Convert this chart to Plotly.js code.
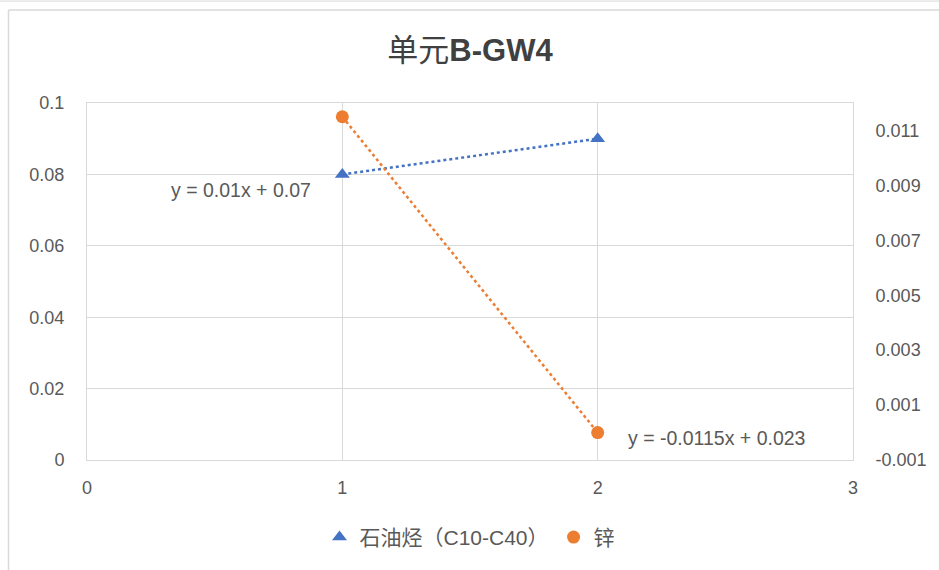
<!DOCTYPE html>
<html>
<head>
<meta charset="utf-8">
<script src="https://cdn.plot.ly/plotly-3.0.1.min.js"></script>
<style>html,body{margin:0;padding:0;background:#fff;}#chart{width:939px;height:570px;}</style>
</head>
<body>
<div id="chart"></div>
<script>
// ---- data ----
const xValues = [1, 2];
const tphName = '石油烃（C10-C40）';
const tphValues = [0.08, 0.09];
const znName = '锌';
const znValues = [0.0115, 0];
const leftTickVals = [0, 0.02, 0.04, 0.06, 0.08, 0.1];
const leftTickText = ['0', '0.02', '0.04', '0.06', '0.08', '0.1'];
const rightTickVals = [-0.001, 0.001, 0.003, 0.005, 0.007, 0.009, 0.011];
const rightTickText = ['-0.001', '0.001', '0.003', '0.005', '0.007', '0.009', '0.011'];
const xTickVals = [0, 1, 2, 3];
const tphEquation = 'y = 0.01x + 0.07';
const znEquation = 'y = -0.0115x + 0.023';

function linFit(xs, ys) {
  const n = xs.length;
  const mx = xs.reduce((a, b) => a + b, 0) / n;
  const my = ys.reduce((a, b) => a + b, 0) / n;
  let sxy = 0, sxx = 0;
  for (let i = 0; i < n; i++) { sxy += (xs[i] - mx) * (ys[i] - my); sxx += (xs[i] - mx) ** 2; }
  const m = sxy / sxx, b = my - m * mx;
  const x0 = Math.min(...xs), x1 = Math.max(...xs);
  return { x: [x0, x1], y: [m * x0 + b, m * x1 + b] };
}

const blue = '#4472C4', orange = '#ED7D31', grid = '#D9D9D9', txt = '#595959';
const FONT = 'Liberation Sans, "Noto Sans CJK SC", sans-serif';

const tphFit = linFit(xValues, tphValues);
const znFit = linFit(xValues, znValues);

const traces = [
  { x: tphFit.x, y: tphFit.y, mode: 'lines', line: { color: blue, width: 2.5, dash: 'dot' }, showlegend: false, hoverinfo: 'skip', yaxis: 'y' },
  { x: znFit.x, y: znFit.y, mode: 'lines', line: { color: orange, width: 2.5, dash: 'dot' }, showlegend: false, hoverinfo: 'skip', yaxis: 'y2' },
  { x: xValues, y: tphValues, name: tphName, mode: 'markers', marker: { symbol: 'triangle-up', size: 13, color: blue }, yaxis: 'y' },
  { x: xValues, y: znValues, name: znName, mode: 'markers', marker: { symbol: 'circle', size: 13, color: orange }, yaxis: 'y2' }
];

const layout = {
  width: 939, height: 570,
  margin: { l: 87, r: 86, t: 103, b: 108 },
  paper_bgcolor: '#fff', plot_bgcolor: '#fff',
  font: { family: FONT, color: txt, size: 18 },
  title: { text: '单元<b>B-GW4</b>', x: 0.5, xref: 'paper', y: 0.912, yanchor: 'middle', yref: 'container', font: { family: FONT, size: 31, color: '#404040' } },
  xaxis: {
    range: [0, 3], tickvals: xTickVals, ticktext: xTickVals.map(String),
    showgrid: true, gridcolor: grid, gridwidth: 1, zeroline: false,
    showline: true, linecolor: grid, linewidth: 1, mirror: true,
    ticks: 'outside', ticklen: 11, tickcolor: 'rgba(0,0,0,0)',
    tickfont: { size: 18, color: txt }
  },
  yaxis: {
    range: [0, 0.1], tickvals: leftTickVals, ticktext: leftTickText,
    showgrid: true, gridcolor: grid, gridwidth: 1, zeroline: false,
    showline: true, linecolor: grid, linewidth: 1,
    ticks: 'outside', ticklen: 18, tickcolor: 'rgba(0,0,0,0)',
    tickfont: { size: 18, color: txt }
  },
  yaxis2: {
    range: [-0.001, 0.012], tickvals: rightTickVals, ticktext: rightTickText,
    overlaying: 'y', side: 'right', showgrid: false, zeroline: false,
    showline: true, linecolor: grid, linewidth: 1,
    ticks: 'outside', ticklen: 18, tickcolor: 'rgba(0,0,0,0)',
    tickfont: { size: 18, color: txt }
  },
  legend: { orientation: 'h', x: 0.5, xanchor: 'center', y: -0.217, yanchor: 'middle', font: { size: 21, color: txt }, itemwidth: 30, tracegroupgap: 0 },
  annotations: [
    { x: 0.605, y: 0.0756, xref: 'x', yref: 'y', text: tphEquation, showarrow: false, font: { size: 19.5, color: txt } },
    { x: 2.465, y: 0.0061, xref: 'x', yref: 'y', text: znEquation, showarrow: false, font: { size: 19.5, color: txt } }
  ],
  shapes: [
    { type: 'line', xref: 'paper', yref: 'paper', x0: (8.5 - 87) / 766, x1: (8.5 - 87) / 766, y0: (462 - 9.5) / 359, y1: (462 - 575) / 359, line: { color: grid, width: 1.5 } },
    { type: 'line', xref: 'paper', yref: 'paper', x0: (8.5 - 87) / 766, x1: (945 - 87) / 766, y0: (462 - 9.5) / 359, y1: (462 - 9.5) / 359, line: { color: grid, width: 1.5 } },
    { type: 'line', xref: 'paper', yref: 'paper', x0: (0 - 87) / 766, x1: (945 - 87) / 766, y0: (462 - 0.5) / 359, y1: (462 - 0.5) / 359, line: { color: grid, width: 1 } }
  ]
};

Plotly.newPlot('chart', traces, layout, { displayModeBar: false, staticPlot: true });
</script>
</body>
</html>
